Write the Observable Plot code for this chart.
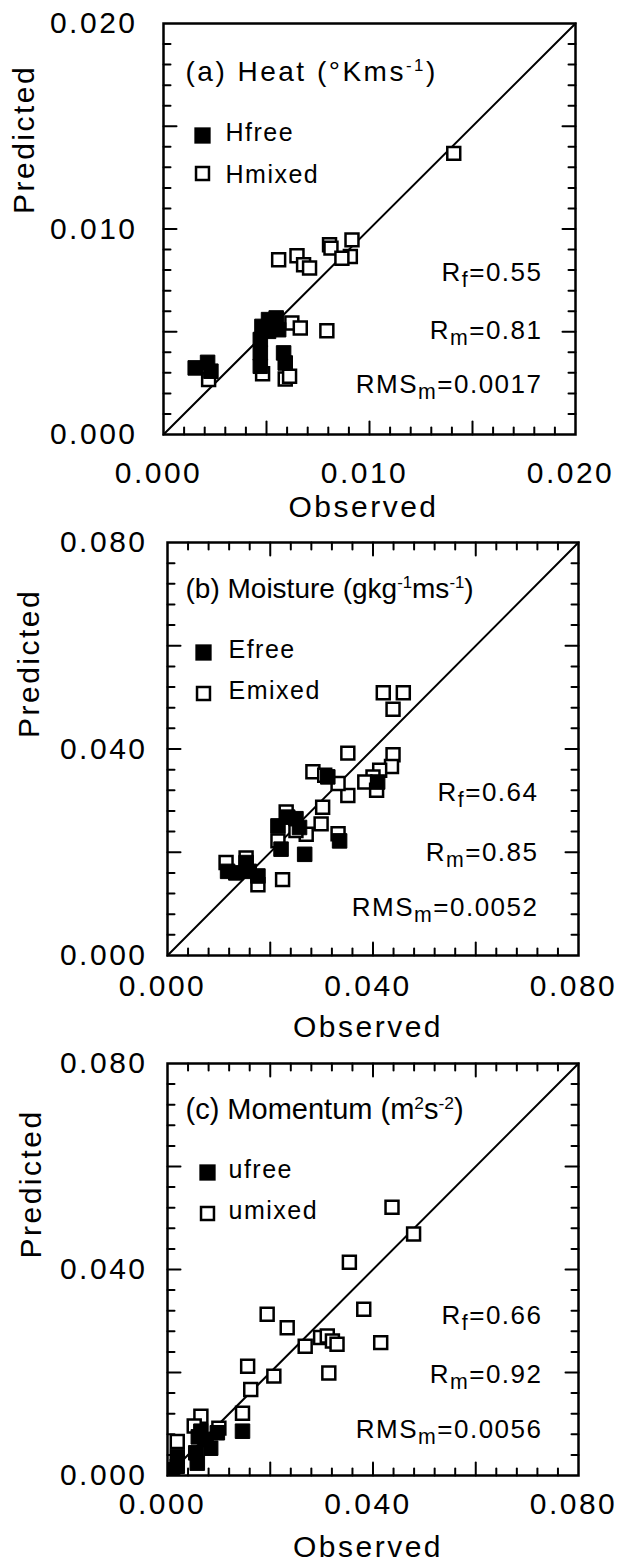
<!DOCTYPE html>
<html><head><meta charset="utf-8">
<script src="https://cdn.jsdelivr.net/npm/d3@7"></script>
<script src="https://cdn.jsdelivr.net/npm/@observablehq/plot@0.6"></script>
<style>
html,body{margin:0;padding:0;background:#fff;}
#chart svg{display:block;}
#chart svg text{letter-spacing:2.5px;}
</style></head><body><div id="chart"></div>
<script>
// ---------- data (observed, predicted) ----------
const heatFree = [[0.00154,0.00324],[0.00214,0.00351],[0.00230,0.00308],[0.00470,0.00332],[0.00470,0.00397],[0.00470,0.00462],[0.00478,0.00526],[0.00510,0.00559],[0.00547,0.00567],[0.00559,0.00510],[0.00510,0.00502],[0.00583,0.00397],[0.00591,0.00348]];
const heatMixed = [[0.01409,0.01368],[0.00915,0.00947],[0.00806,0.00923],[0.00813,0.00907],[0.00907,0.00866],[0.00866,0.00858],[0.00559,0.00850],[0.00648,0.00870],[0.00680,0.00826],[0.00709,0.00810],[0.00623,0.00543],[0.00664,0.00518],[0.00793,0.00505],[0.00219,0.00267],[0.00481,0.00296],[0.00591,0.00270],[0.00612,0.00283]];
const moistFree = [[0.0117,0.0163],[0.0133,0.0160],[0.0153,0.0180],[0.0176,0.0154],[0.0159,0.0163],[0.0215,0.0251],[0.0221,0.0206],[0.0234,0.0268],[0.0250,0.0265],[0.0257,0.0248],[0.0267,0.0196],[0.0335,0.0222],[0.0409,0.0336],[0.0312,0.0346]];
const moistMixed = [[0.0420,0.0509],[0.0459,0.0509],[0.0439,0.0477],[0.0351,0.0392],[0.0439,0.0389],[0.0436,0.0366],[0.0413,0.0359],[0.0400,0.0346],[0.0384,0.0336],[0.0407,0.0320],[0.0351,0.0310],[0.0283,0.0356],[0.0306,0.0349],[0.0332,0.0333],[0.0302,0.0287],[0.0299,0.0255],[0.0270,0.0235],[0.0250,0.0242],[0.0215,0.0222],[0.0224,0.0147],[0.0176,0.0137],[0.0153,0.0189],[0.0114,0.0180],[0.0332,0.0236],[0.0231,0.0278]];
const momFree = [[0.0146,0.0086],[0.0065,0.0086],[0.0075,0.0070],[0.0097,0.0083],[0.0055,0.0044],[0.0019,0.0037],[0.0019,0.0018],[0.0058,0.0024],[0.0010,0.0011],[0.0084,0.0053],[0.0060,0.0075]];
const momMixed = [[0.0437,0.0521],[0.0479,0.0469],[0.0354,0.0414],[0.0382,0.0323],[0.0194,0.0313],[0.0233,0.0287],[0.0415,0.0258],[0.0268,0.0251],[0.0298,0.0268],[0.0311,0.0271],[0.0321,0.0261],[0.0330,0.0255],[0.0314,0.0199],[0.0156,0.0212],[0.0207,0.0193],[0.0162,0.0167],[0.0146,0.0121],[0.0065,0.0115],[0.0052,0.0096],[0.0100,0.0092],[0.0019,0.0066]];

const heatTicks = [0, 0.010, 0.020];
const moistTicks = [0, 0.040, 0.080];
const momTicks = [0, 0.040, 0.080];

const heatStats = ["R_{f}=0.55", "R_{m}=0.81", "RMS_{m}=0.0017"];
const moistStats = ["R_{f}=0.64", "R_{m}=0.85", "RMS_{m}=0.0052"];
const momStats = ["R_{f}=0.66", "R_{m}=0.92", "RMS_{m}=0.0056"];

const titles = ["(a) Heat (°Kms^{-1})", "(b) Moisture (gkg^{-1}ms^{-1})", "(c) Momentum (m^{2}s^{-2})"];
const freeLabels = ["Hfree", "Efree", "ufree"];
const mixedLabels = ["Hmixed", "Emixed", "umixed"];
const xTitle = "Observed";
const yTitle = "Predicted";

// ---------- layout ----------
const panels = [
  {title: titles[0], max: 0.02, free: heatFree, mixed: heatMixed, fl: freeLabels[0], ml2: mixedLabels[0], stats: heatStats, ticks: heatTicks,
   L: {ml:163, mr:42, mt:23, mb:86, top:false, yPad:26, xPad:48, xDx:-5, predDx:-130, predDy:-15, obsDx:-6, titleDx:22, titleDy:57, titleFs:28, titleLs:2.5,
       statsDx:-33, statsDy:[257,315,369], legSq:[[39,112],[39,150]], legTx:[[62,117],[62,159]]}},
  {title: titles[1], max: 0.08, free: moistFree, mixed: moistMixed, fl: freeLabels[1], ml2: mixedLabels[1], stats: moistStats, ticks: moistTicks,
   L: {ml:167, mr:39, mt:22, mb:85, top:true, yPad:20, xPad:40, xDx:-5, predDx:-129, predDy:-11, obsDx:-5, titleDx:18, titleDy:55, titleFs:28, titleLs:0,
       statsDx:-40, statsDy:[258,318,373], legSq:[[36,110],[36,151]], legTx:[[61,115],[61,156]]}},
  {title: titles[2], max: 0.08, free: momFree, mixed: momMixed, fl: freeLabels[2], ml2: mixedLabels[2], stats: momStats, ticks: momTicks,
   L: {ml:167, mr:39, mt:23, mb:85, top:true, yPad:20, xPad:38, xDx:-5, predDx:-127, predDy:-11, obsDx:-5, titleDx:18, titleDy:55, titleFs:29, titleLs:0,
       statsDx:-36, statsDy:[260,319,374], legSq:[[40,109],[40,150]], legTx:[[61,114],[61,155]]}}
];

const fmt = d3.format(".3f");
const tickShape = {draw(ctx, l) { ctx.moveTo(0, 0); ctx.lineTo(0, -l); }};

function tickMarks(max, showTop) {
  const pos = d3.range(21).map(i => i * max / 20);
  const minor = pos.filter((d, i) => i % 5 !== 0);
  const major = pos.filter((d, i) => i % 5 === 0 && i > 0 && i < 20);
  const common = {shape: tickShape, anchor: "start", stroke: "black", strokeWidth: 2};
  const out = [];
  for (const [set, len] of [[minor, 7], [major, 13]]) {
    out.push(Plot.vector(set, {...common, x: d => d, y: 0, rotate: 0, length: len}));
    if (showTop) out.push(Plot.vector(set, {...common, x: d => d, y: max, rotate: 180, length: len}));
    out.push(Plot.vector(set, {...common, x: 0, y: d => d, rotate: 90, length: len}));
    out.push(Plot.vector(set, {...common, x: max, y: d => d, rotate: 270, length: len}));
  }
  return out;
}

function richify(svg, lsMap) {
  d3.select(svg).selectAll("text").each(function() {
    const s = this.textContent;
    if (lsMap.has(s)) this.style.letterSpacing = lsMap.get(s) + "px";
    if (!/[\^_]\{/.test(s)) return;
    const parts = s.split(/([\^_]\{[^}]*\})/).filter(p => p);
    this.textContent = "";
    for (const p of parts) {
      const t = document.createElementNS("http://www.w3.org/2000/svg", "tspan");
      if (p.startsWith("^{")) { t.setAttribute("font-size", "60%"); t.setAttribute("baseline-shift", "10px"); t.textContent = p.slice(2, -1); }
      else if (p.startsWith("_{")) { t.setAttribute("font-size", "82%"); t.setAttribute("baseline-shift", "-6px"); t.textContent = p.slice(2, -1); }
      else t.textContent = p;
      this.appendChild(t);
    }
  });
}

const chart = document.getElementById("chart");
for (const P of panels) {
  const L = P.L;
  const diag = [0, P.max];
  const marks = [
    Plot.line(diag, {x: d => d, y: d => d, stroke: "black", strokeWidth: 2}),
    Plot.dot(P.mixed, {x: d => d[0], y: d => d[1], symbol: "square", r: 7.3, fill: "white", stroke: "black", strokeWidth: 2.5, clip: true}),
    Plot.dot(P.free, {x: d => d[0], y: d => d[1], symbol: "square", r: 8.2, fill: "black", stroke: "black", strokeWidth: 1, clip: true}),
    ...tickMarks(P.max, L.top),
    Plot.frame({stroke: "black", strokeWidth: 2.5}),
    Plot.axisX({ticks: P.ticks, anchor: "bottom", tickSize: 0, tickPadding: L.xPad - 21.3, tickFormat: fmt, label: null, dx: L.xDx}),
    Plot.axisY({ticks: P.ticks, anchor: "left", tickSize: 0, tickPadding: L.yPad, tickFormat: fmt, label: null}),
    Plot.text([xTitle], {frameAnchor: "bottom", dy: L.mb - 4, dx: L.obsDx, lineAnchor: "bottom"}),
    Plot.text([yTitle], {frameAnchor: "left", dx: L.predDx, dy: L.predDy, rotate: -90, lineAnchor: "bottom"}),
    Plot.text([P.title], {frameAnchor: "top-left", dx: L.titleDx, dy: L.titleDy, textAnchor: "start", lineAnchor: "bottom", fontSize: L.titleFs}),
    Plot.dot([P.fl], {x: null, y: null, frameAnchor: "top-left", dx: L.legSq[0][0], dy: L.legSq[0][1], symbol: "square", r: 9.2, fill: "black"}),
    Plot.dot([P.ml2], {x: null, y: null, frameAnchor: "top-left", dx: L.legSq[1][0], dy: L.legSq[1][1], symbol: "square", r: 7.3, fill: "white", stroke: "black", strokeWidth: 2.5}),
    Plot.text([P.fl], {frameAnchor: "top-left", dx: L.legTx[0][0], dy: L.legTx[0][1], textAnchor: "start", lineAnchor: "bottom", fontSize: 25}),
    Plot.text([P.ml2], {frameAnchor: "top-left", dx: L.legTx[1][0], dy: L.legTx[1][1], textAnchor: "start", lineAnchor: "bottom", fontSize: 25}),
    ...P.stats.map((s, i) => Plot.text([s], {frameAnchor: "top-right", dx: L.statsDx, dy: L.statsDy[i], textAnchor: "end", lineAnchor: "bottom", fontSize: 26}))
  ];
  const svg = Plot.plot({
    width: 617, height: 520,
    marginLeft: L.ml, marginRight: L.mr, marginTop: L.mt, marginBottom: L.mb,
    x: {domain: [0, P.max]}, y: {domain: [0, P.max]},
    style: {fontFamily: "'Liberation Sans', Arial, Helvetica, sans-serif", fontSize: "30px", color: "black", background: "white", overflow: "visible"},
    marks
  });
  const lsMap = new Map([[P.title, L.titleLs], [P.fl, 1.5], [P.ml2, 1.5], ...P.stats.map(s => [s, 1.5])]);
  richify(svg, lsMap);
  chart.appendChild(svg);
}
</script></body></html>
